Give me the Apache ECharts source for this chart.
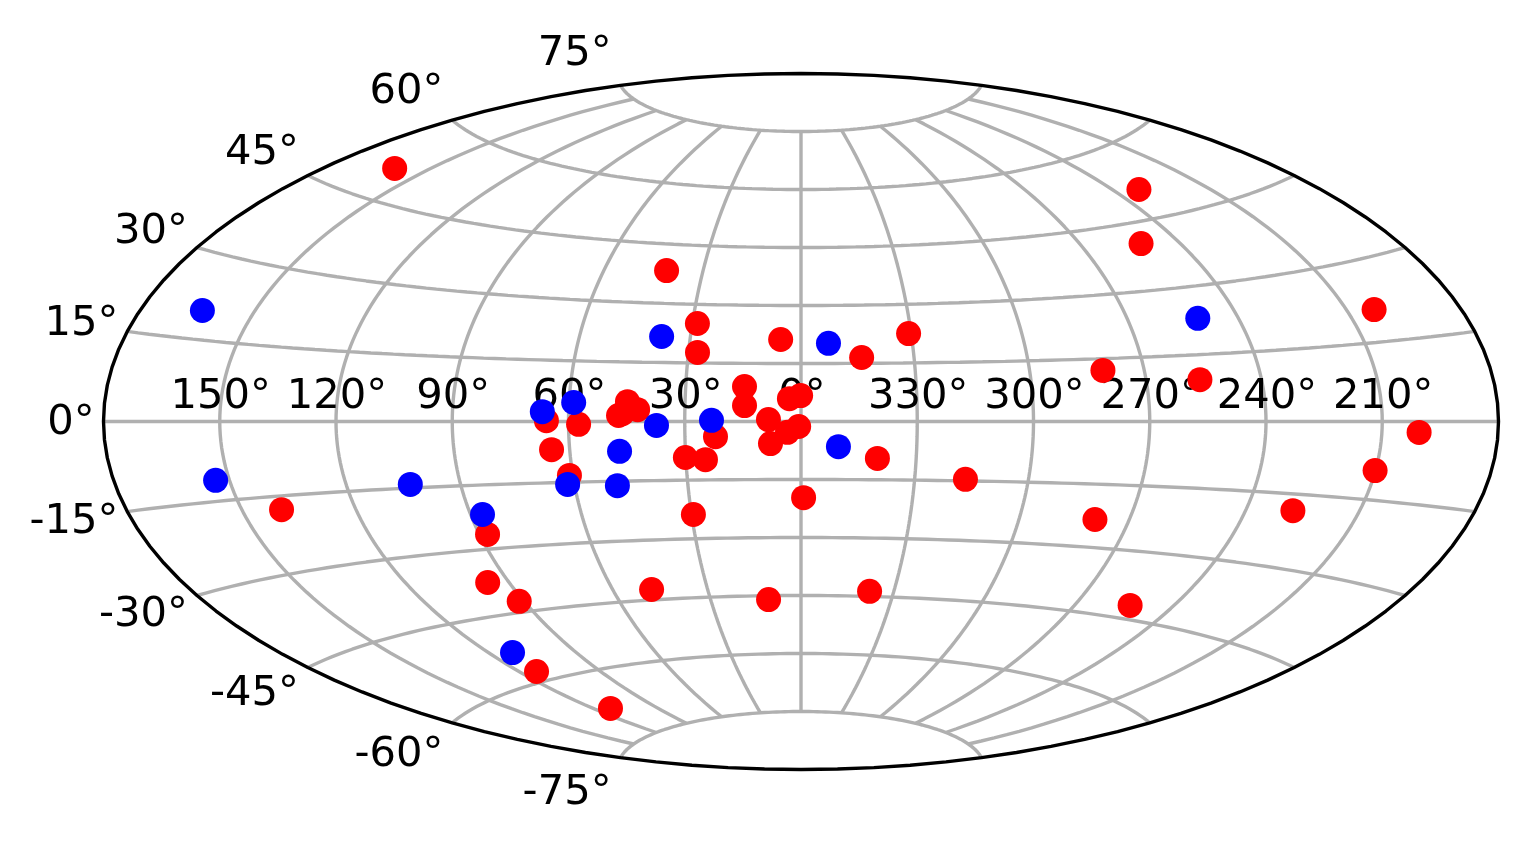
<!DOCTYPE html>
<html>
<head>
<meta charset="utf-8">
<title>Sky map</title>
<script src="https://cdn.jsdelivr.net/npm/echarts@6/dist/echarts.min.js"></script>
<style>
  html, body { margin: 0; background: #fff; }
  #chart { width: 1531px; height: 843px; }
</style>
</head>
<body>
<div id="chart"></div>
<script>
// longitude, latitude in degrees
const redPoints = [
  [28.6,25.1],[27.6,17.7],[65.7,0.2],[57.4,-0.7],[64.7,-6.9],[60.9,-13.3],[44.9,5.0],[42.2,3.0],
  [47.1,1.5],[46.1,2.0],[30.1,-9.2],[24.9,-9.8],[22.1,-3.9],[14.7,9.0],[14.6,4.1],[29.5,-23.8],
  [5.5,21.2],[330.7,22.5],[343.9,16.5],[3.0,5.9],[0.1,6.7],[8.4,0.5],[7.9,-5.7],[3.5,-2.8],
  [0.6,-1.3],[340.1,-9.5],[359.3,-19.7],[160.5,50.9],[41.1,38.3],[139.6,-17.7],[87.8,-26.6],[96.3,-37.5],
  [91.5,-42.5],[113.9,-57.8],[112.7,-68.3],[47.8,-42.4],[231.5,51.1],[251.5,40.4],[202.7,21.0],[280.8,12.2],
  [256.0,9.4],[200.4,-2.0],[210.1,-9.4],[227.5,-18.4],[279.3,-23.4],[253.0,-42.0],[10.8,-46.0],[337.8,-43.7],
  [316.6,-14.6]
];
const bluePoints = [
  [163.8,20.2],[37.8,21.6],[66.8,2.4],[58.8,4.7],[37.3,-1.0],[47.1,-7.5],[48.7,-16.1],[61.8,-15.5],
  [23.1,0.3],[352.6,20.2],[350.3,-6.5],[153.6,-11.1],[103.2,-14.2],[86.8,-21.9],[112.1,-53.1],[250.9,23.0]
];
const lonTicks = [150,120,90,60,30,0,330,300,270,240,210];
const latTicks = [75,60,45,30,15,0,-15,-30,-45,-60,-75];

const DEG = Math.PI / 180;
const LAT_CAP = 75;
const FONT = { fontFamily: 'DejaVu Sans', fontSize: 41.67, color: '#000' };

// Aitoff projection, east to the left like the original
function project(lon, lat) {
  let l = lon > 180 ? lon - 360 : lon;
  l = -l * DEG;
  const p = lat * DEG;
  const alpha = Math.acos(Math.cos(p) * Math.cos(l / 2));
  const sinc = alpha < 1e-9 ? 1 : Math.sin(alpha) / alpha;
  return [2 * Math.cos(p) * Math.sin(l / 2) / sinc, Math.sin(p) / sinc];
}

function sampled(from, to, fn) {
  const out = [];
  for (let i = 0; i <= 120; i++) out.push(fn(from + (to - from) * i / 120));
  return out;
}

const lineSeries = (data, color, width, z) => ({
  type: 'line', data, showSymbol: false, symbol: 'none', silent: true, clip: false, z,
  lineStyle: { color, width, cap: 'butt' }
});

const chart = echarts.init(document.getElementById('chart'), null, { renderer: 'canvas' });

const series = [];

// graticule
latTicks.forEach(lat => {
  series.push(lineSeries(sampled(-179.999, 179.999, lon => project(lon, lat)), '#b0b0b0', 3.4, 1));
});
lonTicks.forEach(lon => {
  series.push(lineSeries(sampled(-LAT_CAP, LAT_CAP, lat => project(lon, lat)), '#b0b0b0', 3.4, 1));
});

// tick labels: longitudes sit on the equator, latitudes outside the edge at 1.1x height
series.push({
  type: 'scatter', symbolSize: 0, silent: true, clip: false, z: 2,
  itemStyle: { opacity: 1 },
  data: lonTicks.map(lon => ({ value: project(lon, 0), name: lon + '°' })),
  label: { show: true, position: 'top', distance: 2, offset: [1, -1], formatter: '{b}', ...FONT }
});
series.push({
  type: 'scatter', symbolSize: 0, silent: true, clip: false, z: 2,
  itemStyle: { opacity: 1 },
  data: latTicks.map(lat => {
    const q = project(179.999, lat);
    return { value: [q[0], q[1] * 1.1], name: lat + '°' };
  }),
  label: { show: true, position: 'left', distance: 8, offset: [-1, 2], formatter: '{b}', ...FONT }
});

series.push({
  type: 'scatter', data: redPoints.map(d => project(d[0], d[1])), symbol: 'circle', symbolSize: 25,
  itemStyle: { color: '#ff0000', opacity: 1 }, clip: false, z: 3
});
series.push({
  type: 'scatter', data: bluePoints.map(d => project(d[0], d[1])), symbol: 'circle', symbolSize: 25,
  itemStyle: { color: '#0000ff', opacity: 1 }, clip: false, z: 4
});

// outline
series.push(lineSeries(sampled(0, 360, t => [Math.PI * Math.cos(t * DEG), Math.PI / 2 * Math.sin(t * DEG)]), '#000', 3.4, 5));

chart.setOption({
  animation: false,
  backgroundColor: '#fff',
  grid: { left: 103.5, top: 73.5, width: 1395, height: 696 },
  xAxis: { type: 'value', min: -Math.PI, max: Math.PI, show: false },
  yAxis: { type: 'value', min: -Math.PI / 2, max: Math.PI / 2, show: false },
  series
});
</script>
</body>
</html>
